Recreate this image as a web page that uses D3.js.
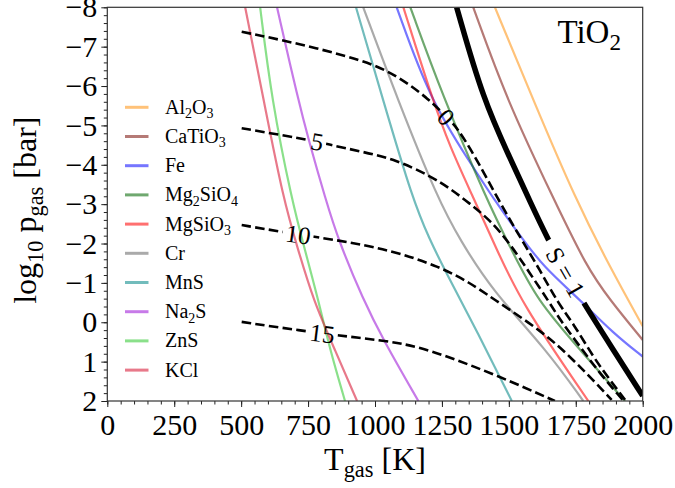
<!DOCTYPE html>
<html>
<head>
<meta charset="utf-8">
<script src="https://cdn.jsdelivr.net/npm/d3@7/dist/d3.min.js"></script>
<style>
  body { margin: 0; background: #fff; }
  svg { font-family: "Liberation Serif", "Times New Roman", serif; }
</style>
</head>
<body>
<svg width="675" height="488"></svg>
<script>
// ticks
var xTicks = [0, 250, 500, 750, 1000, 1250, 1500, 1750, 2000];
var yTicks = [-8, -7, -6, -5, -4, -3, -2, -1, 0, 1, 2];

// condensation curves, [T_gas, log10 p_gas]
var species = ["Al2O3", "CaTiO3", "Fe", "Mg2SiO4", "MgSiO3", "Cr", "MnS", "Na2S", "ZnS", "KCl"];
var al2o3   = [[1448,-8],[1591,-5.65],[1750,-3.11],[1877,-1.41],[2000,0.1]];
var catio3  = [[1367,-8],[1492,-5.65],[1669,-3.11],[1790,-1.41],[1877,-0.57],[2000,0.45]];
var fe      = [[1081,-8],[1205,-5.65],[1358,-4.03],[1445,-3.11],[1545,-2.17],[1629,-1.41],[1766,-0.57],[1890,0.28],[2000,0.87]];
var mg2sio4 = [[1132,-8],[1250,-5.8],[1417,-3.11],[1510,-1.84],[1604,-0.57],[1766,0.7],[1934,2]];
var mgsio3  = [[1106,-8],[1215,-5.65],[1280,-4.46],[1360,-3.27],[1445,-2.0],[1545,-0.5],[1797,2]];
var cr      = [[956,-8],[1085,-5.65],[1236,-3.11],[1318,-2.09],[1436,-0.82],[1641,0.7],[1778,2]];
var mns     = [[929,-8],[1030,-5.65],[1141,-3.11],[1205,-2.09],[1255,-1.4],[1385,0.28],[1511,2]];
var na2s    = [[634,-8],[713,-5.65],[752,-4.63],[816,-3.11],[863,-2.09],[956,-0.57],[1031,0.45],[1162,2]];
var zns     = [[571,-8],[614,-5.65],[689,-3.11],[738,-1.84],[788,-0.57],[832,0.7],[888,2]];
var kcl     = [[515,-8],[584,-5.65],[658,-3.11],[713,-1.84],[769,-0.57],[850,0.7],[933,2]];
var curves  = [al2o3, catio3, fe, mg2sio4, mgsio3, cr, mns, na2s, zns, kcl];

// TiO2 S = 1
var tio2 = [[1305,-8],[1404,-5.65],[1508,-4.12],[1576,-3.11],[1647,-2.09],[1710,-1.3],[1772,-0.57],[1890,0.7],[2000,1.87]];
var tio2Label = "S = 1";
var tio2LabelT = 1712;

// p-T profiles
var profileNames = ["0", "5", "10", "15"];
var profile0  = [[502,-7.38],[707,-7.09],[956,-6.66],[1081,-6.28],[1205,-5.65],[1268,-5.2],[1305,-4.97],[1381,-4.13],[1454,-3.19],[1541,-2.17],[1616,-1.33],[1684,-0.48],[1741,0.03],[1815,0.88],[1878,1.47],[1934,1.97]];
var profile5  = [[502,-4.93],[645,-4.76],[788,-4.59],[832,-4.5],[956,-4.33],[1081,-4.12],[1205,-3.72],[1280,-3.4],[1355,-3.01],[1429,-2.6],[1504,-2.0],[1579,-1.24],[1654,-0.48],[1691,-0.06],[1766,0.62],[1840,1.3],[1915,1.89],[1928,2]];
var profile10 = [[502,-2.47],[645,-2.3],[857,-2.09],[1056,-1.84],[1243,-1.41],[1355,-1.0],[1430,-0.65],[1635,0.28],[1741,0.96],[1815,1.47],[1884,1.97]];
var profile15 = [[502,-0.01],[707,0.2],[956,0.41],[1106,0.53],[1243,0.79],[1467,1.38],[1672,2.0]];
var profiles = [profile0, profile5, profile10, profile15];
var profileLabelT = [1266, 784, 713, 803];

var colors = ["#ff9a1f", "#84211a", "#1b1bff", "#0f6e0f", "#ff1111",
              "#717171", "#148f8f", "#a221d9", "#3ccb3c", "#d9203c"];

;(function(){
    var svg = d3.select("svg");
    var left = 107.3, right = 642.7, top = 7.3, bottom = 401;

    var x = d3.scaleLinear().domain([0, 2000]).range([left, right]);
    var y = d3.scaleLinear().domain([-8, 2]).range([top, bottom]);

    var defs = svg.append("defs");
    defs.append("clipPath").attr("id", "plot")
        .append("rect").attr("x", left).attr("y", top)
        .attr("width", right - left).attr("height", bottom - top);

    var line = d3.line()
        .x(function(d){ return x(d[0]); })
        .y(function(d){ return y(d[1]); })
        .curve(d3.curveBasis);

    // position + angle on a curve for an inline label
    function along(pts, T) {
        var i = 1;
        while (i < pts.length - 1 && pts[i][0] < T) i++;
        var a = pts[i-1], b = pts[i];
        var f = (T - a[0]) / (b[0] - a[0]);
        var p = a[1] + f * (b[1] - a[1]);
        var ang = Math.atan2(y(b[1]) - y(a[1]), x(b[0]) - x(a[0])) * 180 / Math.PI;
        return {x: x(T), y: y(p), a: ang};
    }

    function gapMask(id, pos, w, h) {
        var m = defs.append("mask").attr("id", id)
            .attr("maskUnits", "userSpaceOnUse")
            .attr("x", 0).attr("y", 0).attr("width", 675).attr("height", 488);
        m.append("rect").attr("width", 675).attr("height", 488).attr("fill", "#fff");
        m.append("rect").attr("x", -w/2).attr("y", -h/2).attr("width", w).attr("height", h)
            .attr("fill", "#000")
            .attr("transform", "translate(" + pos.x + "," + pos.y + ") rotate(" + pos.a + ")");
    }

    var plot = svg.append("g").attr("clip-path", "url(#plot)");

    curves.forEach(function(c, i){
        plot.append("path")
            .datum(c)
            .attr("fill", "none")
            .attr("stroke", colors[i])
            .attr("stroke-opacity", 0.6)
            .attr("stroke-width", 2.2)
            .attr("d", line);
    });

    // TiO2 S=1 line with label gap
    var sPos = along(tio2, tio2LabelT);
    gapMask("mtio2", sPos, 72, 20);
    plot.append("path")
        .datum(tio2)
        .attr("fill", "none")
        .attr("stroke", "#000")
        .attr("stroke-width", 5.5)
        .attr("mask", "url(#mtio2)")
        .attr("d", line);
    svg.append("text")
        .attr("transform", "translate(" + sPos.x + "," + sPos.y + ") rotate(" + sPos.a + ")")
        .attr("text-anchor", "middle")
        .attr("dy", "0.35em")
        .style("font-size", "25px")
        .text(tio2Label);

    profiles.forEach(function(pr, i){
        var pos = along(pr, profileLabelT[i]);
        var w = profileNames[i].length * 12.5 + 6;
        gapMask("mp" + i, pos, w, 14);
        plot.append("path")
            .datum(pr)
            .attr("fill", "none")
            .attr("stroke", "#000")
            .attr("stroke-width", 2.6)
            .attr("stroke-dasharray", "9.6,4.2")
            .attr("mask", "url(#mp" + i + ")")
            .attr("d", line);
        svg.append("text")
            .attr("transform", "translate(" + pos.x + "," + pos.y + ") rotate(" + pos.a + ")")
            .attr("text-anchor", "middle")
            .attr("dy", "0.35em")
            .style("font-size", "25px")
            .text(profileNames[i]);
    });

    // axes
    function fmt(d){ return d < 0 ? "\u2212" + Math.abs(d) : String(d); }

    svg.append("g")
        .attr("transform", "translate(0," + bottom + ")")
        .call(d3.axisBottom(x).tickValues(d3.range(0, 2001, 50)).tickSize(3.5).tickFormat("").tickSizeOuter(0));
    svg.append("g")
        .attr("transform", "translate(0," + bottom + ")")
        .call(d3.axisBottom(x).tickValues(xTicks).tickSize(6).tickPadding(6.5).tickSizeOuter(0).tickFormat(fmt));

    svg.append("g")
        .attr("transform", "translate(" + left + ",0)")
        .call(d3.axisLeft(y).tickValues(d3.range(-8, 2.01, 0.2)).tickSize(3.5).tickFormat("").tickSizeOuter(0));
    svg.append("g")
        .attr("transform", "translate(" + left + ",0)")
        .call(d3.axisLeft(y).tickValues(yTicks).tickSize(6).tickPadding(4).tickSizeOuter(0).tickFormat(fmt));

    svg.selectAll(".tick text").style("font-size", "30px").style("font-family", "Liberation Serif, serif").attr("fill", "#000");
    svg.selectAll(".tick line").attr("stroke", "#222").attr("stroke-width", 1);
    svg.selectAll(".domain").remove();

    svg.append("rect")
        .attr("x", left).attr("y", top)
        .attr("width", right - left).attr("height", bottom - top)
        .attr("fill", "none").attr("stroke", "#333").attr("stroke-width", 1.2);

    // text with subscripts: parts = [[str, isSub], ...]
    function rich(t, parts, fs) {
        var shift = 0.22 * fs, cur = 0;
        parts.forEach(function(p){
            var want = p[1] ? shift : 0;
            t.append("tspan")
                .attr("dy", want - cur)
                .style("font-size", (p[1] ? fs * 0.7 : fs) + "px")
                .text(p[0]);
            cur = want;
        });
    }
    function chem(name) {
        return name.match(/[A-Za-z]+|[0-9]+/g).map(function(s){ return [s, /\d/.test(s)]; });
    }

    // axis labels
    rich(svg.append("text").attr("x", (left + right) / 2).attr("y", 470).attr("text-anchor", "middle"),
        [["T", false], ["gas", true], [" [K]", false]], 32);
    rich(svg.append("text").attr("transform", "translate(36," + ((top + bottom) / 2 + 6) + ") rotate(-90)").attr("text-anchor", "middle"),
        [["log", false], ["10", true], [" p", false], ["gas", true], [" [bar]", false]], 32);

    // TiO2 tag
    rich(svg.append("text").attr("x", 621).attr("y", 43).attr("text-anchor", "end"),
        chem("TiO2"), 33);

    // legend
    var legend = svg.append("g");
    species.forEach(function(s, i){
        var cy = 107.3 + i * 29.2;
        legend.append("line")
            .attr("x1", 125).attr("x2", 148.5).attr("y1", cy).attr("y2", cy)
            .attr("stroke", colors[i]).attr("stroke-opacity", 0.6).attr("stroke-width", 3);
        rich(legend.append("text").attr("x", 165).attr("y", cy + 6.5), chem(s), 20);
    });
}());
</script>
</body>
</html>
